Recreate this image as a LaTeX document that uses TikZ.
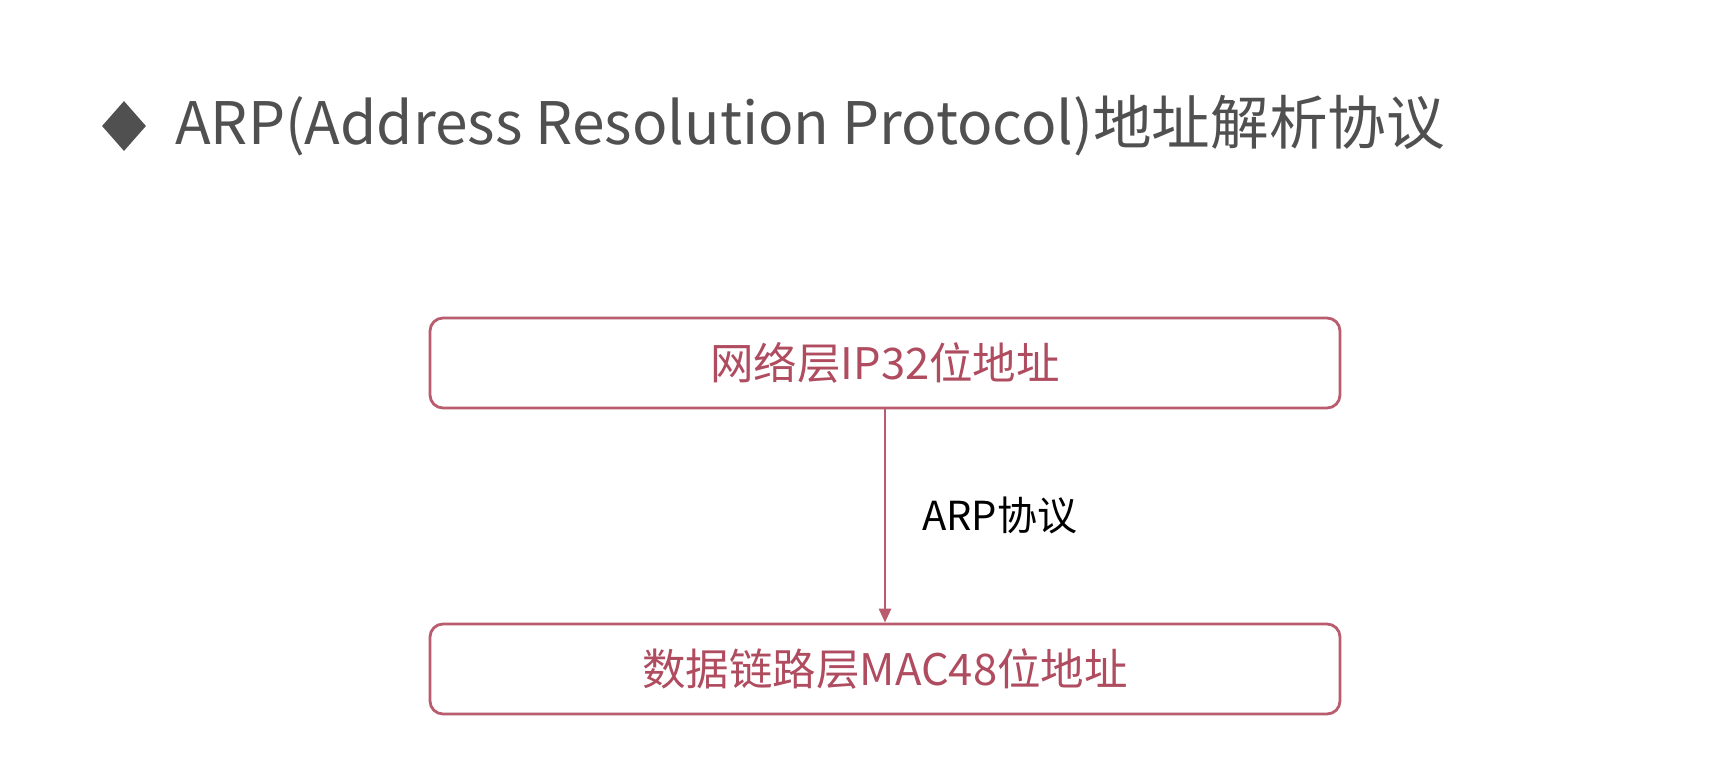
\documentclass[tikz,border=0pt]{standalone}
\usepackage{fontspec}
\setmainfont{Noto Sans CJK SC}
\newfontfamily\cjk{Noto Sans CJK SC}
\usetikzlibrary{arrows.meta,shapes.geometric}
\definecolor{boxred}{RGB}{184,92,110}
\definecolor{txtred}{RGB}{176,76,96}
\definecolor{titlegray}{RGB}{80,80,80}
\tikzset{
  layerbox/.style={draw=boxred, line width=2.8pt, rounded corners=13pt, minimum width=910pt, minimum height=90pt, text=txtred, font=\cjk\fontsize{43.5}{48}\selectfont, inner sep=0pt},
  flowarrow/.style={draw=boxred, line width=2.8pt, -{Triangle[length=14pt,width=12pt]}},
}
\begin{document}
\begin{tikzpicture}[x=1pt,y=-1pt]
\useasboundingbox[fill=white] (0,0) rectangle (1716,772);
\node[fill=titlegray, diamond, minimum width=44pt, minimum height=50pt, inner sep=0pt] (dia) at (124,126) {};
\node[anchor=west, text=titlegray, font=\cjk\fontsize{58.6}{64}\selectfont, inner sep=0pt] (title) at (175,126) {ARP(Address Resolution Protocol)地址解析协议};
\node[layerbox] (ip) at (885,363) {网络层IP32位地址};
\node[layerbox] (mac) at (885,669) {数据链路层MAC48位地址};
\draw[flowarrow] (ip.south) -- (mac.north);
\node[anchor=west, font=\cjk\fontsize{40}{44}\selectfont, inner sep=0pt] (arp) at (922,515) {ARP协议};
\end{tikzpicture}
\end{document}
